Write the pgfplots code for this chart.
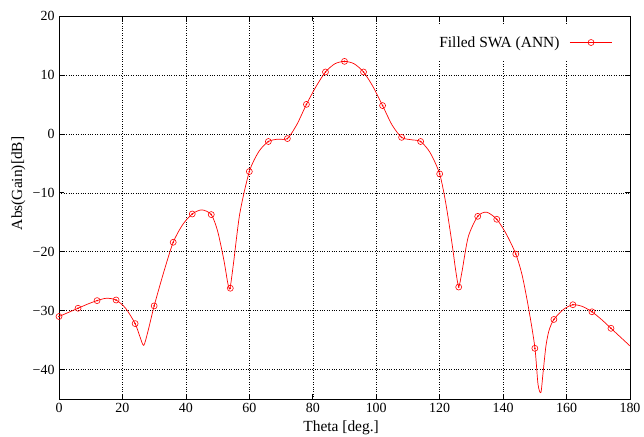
\documentclass[border=0pt]{standalone}
\usepackage{pgfplots}
\pgfplotsset{compat=1.18}
\usepackage{fontspec}
\setmainfont{Liberation Serif}
\begin{document}
\begin{tikzpicture}[font=\fontsize{14}{16}\selectfont]
\path[use as bounding box] (-59bp,-38bp) rectangle (585bp,399bp);
\begin{axis}[
  at={(0,0)}, anchor=south west,
  scale only axis, width=571bp, height=383bp,
  xmin=0, xmax=180, ymin=-45, ymax=20,
  xtick={0,20,...,180},
  xticklabels={0,20,40,60,80,100,120,140,160,180},
  ytick={-40,-30,-20,-10,0,10,20},
  yticklabels={−40,−30,−20,−10,0,10,20},
  tick align=inside, tick pos=both,
  major tick length=5bp,
  axis line style={black, line width=0.9pt},
  every tick/.style={black, line width=0.6pt},
  grid=major,
  major grid style={black, dotted, line width=0.5pt},
  label style={font=\fontsize{15.5}{17}\selectfont},
  tick label style={font=\fontsize{14}{16}\selectfont},
  xlabel={Theta [deg.]}, ylabel={Abs(Gain)[dB]},
  xlabel style={at={(axis description cs:0.494,-0.0757)}, anchor=center},
  ylabel style={at={(axis description cs:-0.0709,0.563)}, anchor=center},
  xticklabel style={yshift=-1bp},
  yticklabel style={xshift=-1bp},
  legend style={at={(axis cs:174.6,15.5)}, anchor=east, draw=none, fill=white,
    legend plot pos=right, font=\fontsize{15.5}{17}\selectfont,
    inner xsep=0bp, inner ysep=9bp, column sep=8bp},
  legend image code/.code={%
    \draw[#1] (0cm,0cm) -- (1.5cm,0cm);
    \draw[#1, mark repeat=1] plot coordinates {(0.75cm,0cm)};},
]
\addplot[red, line width=0.7pt, smooth, tension=0.45, forget plot] coordinates {
(0,-31) (3,-30.3) (6,-29.6) (9,-28.9) (12,-28.3) (15,-27.9) (18,-28.2) (21,-29.6)
(24,-32.2) (25.5,-34.4) (26.7,-35.9) (28,-33.6) (30,-29.2) (33,-23.5) (36,-18.4)
(39,-15.4) (42,-13.6) (45,-12.9) (48,-13.7) (50,-16.5) (52,-21.5) (53.2,-25.3)
(53.9,-26.2) (55,-22) (57,-13.5) (60,-6.4) (63,-3) (66,-1.3) (69,-0.9) (72,-0.8)
(75,1.6) (78,5) (81,8) (84,10.5) (87,11.9) (90,12.3) (93,11.9) (96,10.5) (99,8)
(102,4.8) (105,1.5) (108,-0.6) (111,-1) (114,-1.3) (117,-3.2) (120,-6.8)
(122,-12) (124,-19) (125,-23) (126,-25.9) (127,-23.5) (129,-17.5) (132,-14)
(134.8,-13.3) (138,-14.5) (141,-17) (144,-20.4) (146,-24) (148,-29.5)
(150,-36.2) (151,-42.5) (151.9,-43.9) (152.6,-40.5) (153.5,-36) (154.5,-33.3)
(156,-31.5) (159,-29.8) (162,-29) (165,-29.3) (168,-30.2) (171,-31.5)
(174,-33) (177,-34.5) (180,-36)
};
\addplot[red, only marks, mark=o, mark size=3bp, line width=0.6pt, forget plot] coordinates {
(0,-31) (6,-29.6) (12,-28.3) (18,-28.2) (24,-32.2) (30,-29.2) (36,-18.4)
(42,-13.6) (48,-13.7) (54,-26.2) (60,-6.4) (66,-1.3) (72,-0.8) (78,5)
(84,10.5) (90,12.3) (96,10.5) (102,4.8) (108,-0.6) (114,-1.3) (120,-6.8)
(126,-26) (132,-14) (138,-14.5) (144,-20.4) (150,-36.4) (156,-31.5)
(162,-29) (168,-30.2) (174,-33)
};
\addplot[red, only marks, mark=*, mark size=0.6bp, forget plot] coordinates {
(0,-31) (6,-29.6) (12,-28.3) (18,-28.2) (24,-32.2) (30,-29.2) (36,-18.4)
(42,-13.6) (48,-13.7) (54,-26.2) (60,-6.4) (66,-1.3) (72,-0.8) (78,5)
(84,10.5) (90,12.3) (96,10.5) (102,4.8) (108,-0.6) (114,-1.3) (120,-6.8)
(126,-26) (132,-14) (138,-14.5) (144,-20.4) (150,-36.4) (156,-31.5)
(162,-29) (168,-30.2) (174,-33)
};
\addlegendimage{red, line width=0.7pt, mark=o, mark size=3bp, mark options={line width=0.6pt}}
\addlegendentry{Filled SWA (ANN)}
\end{axis}
\end{tikzpicture}
\end{document}
